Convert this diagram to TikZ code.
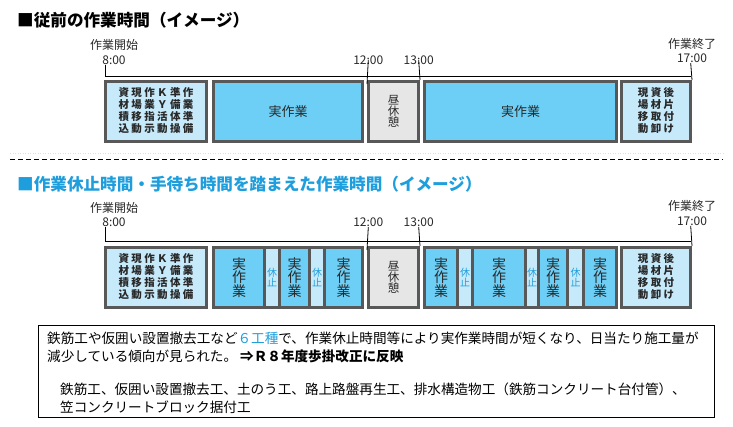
\documentclass[tikz,border=0pt]{standalone}
\usepackage{fontspec}
\setmainfont{Noto Sans CJK JP}
\usepackage{tikz}
\usetikzlibrary{positioning}
\usepackage{xcolor}
\definecolor{titleblue}{RGB}{30,158,220}
\definecolor{workcyan}{RGB}{110,207,246}
\definecolor{paleblue}{RGB}{199,234,251}
\definecolor{lunchgray}{RGB}{230,230,230}
\definecolor{rimgray}{RGB}{88,88,88}
\definecolor{inkgray}{RGB}{40,40,40}

\tikzset{
  slot/.style={draw=rimgray,line width=2.6pt,inner sep=0pt,text=inkgray,minimum height=60.4pt},
  prepbox/.style={slot,fill=paleblue},
  workbox/.style={slot,fill=workcyan},
  lunchbox/.style={slot,fill=lunchgray},
  tline/.style={line width=0.8pt,black},
  timelbl/.style={inner sep=0pt,text=inkgray,font=\fontsize{12}{12}\selectfont},
  gridtext/.style={font=\fontsize{10.5}{10.3}\selectfont\bfseries,
    execute at begin node={\setlength{\tabcolsep}{1.2pt}}},
  tatetext/.style={align=center,font=\fontsize{14}{13.5}\selectfont},
  restlbl/.style={inner sep=0pt,align=center,text=titleblue,font=\fontsize{10}{9.2}\selectfont},
  headline/.style={anchor=west,inner sep=0pt,font=\fontsize{16.6}{18}\selectfont\bfseries},
  notetext/.style={anchor=north west,inner sep=0pt,align=left,text=black,font=\fontsize{13.6}{18}\selectfont}
}

\begin{document}
\begin{tikzpicture}[x=1pt,y=-1pt]
\fill[white] (0,0) rectangle (733,426);
\useasboundingbox (0,0) rectangle (733,426);

% upper chart
\node[headline] (headA) at (17,20) {■従前の作業時間（イメージ）};

\node[prepbox,minimum width=101.4pt,gridtext] (prepA) at (156,111.5)
  {\begin{tabular}{@{}cccccc@{}}資&現&作&Ｋ&準&作\\材&場&業&Ｙ&備&業\\積&移&指&活&体&準\\込&動&示&動&操&備\end{tabular}};
\node[workbox,minimum width=149.4pt,font=\fontsize{13}{13}\selectfont] (workA1) at (288,111.5) {実作業};
\node[lunchbox,minimum width=50.4pt,align=center,font=\fontsize{11.5}{11}\selectfont] (lunchA) at (393.5,111.5) {昼\\休\\憩};
\node[workbox,minimum width=192.4pt,font=\fontsize{13}{13}\selectfont] (workA2) at (520.5,111.5) {実作業};
\node[prepbox,minimum width=69.4pt,gridtext] (closeA) at (656,111.5)
  {\begin{tabular}{@{}ccc@{}}現&資&後\\場&材&片\\移&取&付\\動&卸&け\end{tabular}};

\node[timelbl] (startA) at (114,45) {作業開始};
\node[timelbl] (t8A) at (114,60) {8:00};
\node[timelbl] (t12A) at (368.3,60) {12:00};
\node[timelbl] (t13A) at (418.7,60) {13:00};
\node[timelbl] (endA) at (692,43.5) {作業終了};
\node[timelbl] (t17A) at (692,58.5) {17:00};

\coordinate (axA0) at (105.3,76);
\coordinate (axA1) at (690.7,76);
\draw[tline] (axA0) -- (axA1);
\draw[tline] (axA0 |- t8A.south) -- (axA0);
\draw[tline] (t12A.center) -- ([yshift=-4pt]lunchA.north west);
\draw[tline] (t13A.center) -- (lunchA.north east);
\draw[tline] (axA1 |- t17A.south) -- (closeA.north east);

% separator
\draw[gray!25,line width=0.8pt,dash pattern=on 1pt off 1.5pt] (10,153) -- (723,153);
\draw[line width=0.8pt,dash pattern=on 5pt off 3pt] (10,159) -- (723,159);

% lower chart
\node[headline,text=titleblue] (headB) at (17,184.5) {■作業休止時間・手待ち時間を踏まえた作業時間（イメージ）};

\node[prepbox,minimum width=101.4pt,gridtext] (prepB) at (156,277.5)
  {\begin{tabular}{@{}cccccc@{}}資&現&作&Ｋ&準&作\\材&場&業&Ｙ&備&業\\積&移&指&活&体&準\\込&動&示&動&操&備\end{tabular}};
\node[prepbox,minimum width=149.4pt] (grpB1) at (288,277.5) {};
\node[workbox,minimum width=51.4pt,tatetext] (workB1) at (239,277.5) {実\\作\\業};
\node[workbox,minimum width=30.4pt,tatetext] (workB2) at (294.5,277.5) {実\\作\\業};
\node[workbox,minimum width=38.4pt,tatetext] (workB3) at (343.5,277.5) {実\\作\\業};
\node[restlbl] (restB1) at (272,277.5) {休\\止};
\node[restlbl] (restB2) at (317,277.5) {休\\止};

\node[lunchbox,minimum width=50.4pt,align=center,font=\fontsize{11.5}{11}\selectfont] (lunchB) at (393.5,277.5) {昼\\休\\憩};

\node[prepbox,minimum width=192.4pt] (grpB2) at (520.5,277.5) {};
\node[workbox,minimum width=33.4pt,tatetext] (workB4) at (441,277.5) {実\\作\\業};
\node[workbox,minimum width=53.4pt,tatetext] (workB5) at (499,277.5) {実\\作\\業};
\node[workbox,minimum width=29.4pt,tatetext] (workB6) at (553,277.5) {実\\作\\業};
\node[workbox,minimum width=33.4pt,tatetext] (workB7) at (600,277.5) {実\\作\\業};
\node[restlbl] (restB3) at (465,277.5) {休\\止};
\node[restlbl] (restB4) at (532,277.5) {休\\止};
\node[restlbl] (restB5) at (575.5,277.5) {休\\止};

\node[prepbox,minimum width=69.4pt,gridtext] (closeB) at (656,277.5)
  {\begin{tabular}{@{}ccc@{}}現&資&後\\場&材&片\\移&取&付\\動&卸&け\end{tabular}};

\node[timelbl] (startB) at (114,208) {作業開始};
\node[timelbl] (t8B) at (114,222.5) {8:00};
\node[timelbl] (t12B) at (368.3,222.5) {12:00};
\node[timelbl] (t13B) at (418.7,222.5) {13:00};
\node[timelbl] (endB) at (692,205.7) {作業終了};
\node[timelbl] (t17B) at (692,221.3) {17:00};

\coordinate (axB0) at (105.3,241);
\coordinate (axB1) at (690.7,241);
\draw[tline] (axB0) -- (axB1);
\draw[tline] (axB0 |- t8B.south) -- (axB0);
\draw[tline] (t12B.south) -- ([yshift=-4pt]lunchB.north west);
\draw[tline] (t13B.south) -- (lunchB.north east);
\draw[tline] (axB1 |- t17B.south) -- (closeB.north east);

% note
\node[draw=black,line width=1pt,minimum width=676pt,minimum height=92pt,inner sep=0pt] (note) at (376.5,371.5) {};
\node[notetext] (noteA) at (47,332) {鉄筋工や仮囲い設置撤去工など{\color{titleblue}６工種}で、作業休止時間等により実作業時間が短くなり、日当たり施工量が\\減少している傾向が見られた。\ {\bfseries ⇒Ｒ８年度歩掛改正に反映}};
\node[notetext] (noteB) at (60,383) {鉄筋工、仮囲い設置撤去工、土のう工、路上路盤再生工、排水構造物工（鉄筋コンクリート台付管）、\\笠コンクリートブロック据付工};
\end{tikzpicture}
\end{document}
